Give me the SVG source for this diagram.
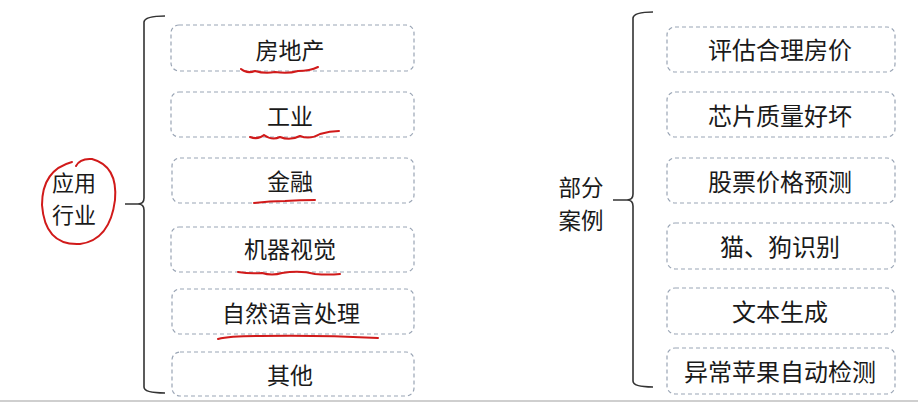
<svg xmlns="http://www.w3.org/2000/svg" width="918" height="404" viewBox="0 0 918 404">
<style>
.box{fill:#ffffff;stroke:#9aa5b5;stroke-width:1.2;stroke-dasharray:4 3}
.t{font-family:"Noto Sans CJK SC","Noto Sans",sans-serif;font-size:23px;fill:#1a1a1a;text-anchor:middle}
.br{fill:none;stroke:#333;stroke-width:1.6}
.red{fill:none;stroke:#d11a1a;stroke-width:2;stroke-linecap:round}
</style>
<rect width="918" height="404" fill="#ffffff"/>
<line x1="0" y1="401" x2="918" y2="401" stroke="#cfcfcf" stroke-width="2"/>
<g id="connectors">
<path class="br" d="M165,16 Q145,16 144,22 L144,198 Q144,204 138,204 L125,204 M138,204 Q144,204 144,210 L144,387 Q144,393 165,393"/>
<path class="br" d="M653,12 Q634,12 633,18 L633,194 Q633,200 627,200 L613,200 M627,200 Q633,200 633,206 L633,381 Q633,387 653,387"/>
</g>
<g id="root-left">
<text class="t" x="74" y="191" style="font-size:22px"><tspan x="74" y="191">应用</tspan><tspan x="74" y="223">行业</tspan></text>
<path class="red" d="M76,166 Q80,158 92,159 Q118,166 115,200 Q110,240 80,244 Q45,246 42,205 Q42,170 72,162"/>
</g>
<g id="root-right">
<text class="t" x="581" y="196" style="font-size:22.5px"><tspan x="581" y="196">部分</tspan><tspan x="581" y="229">案例</tspan></text>
</g>
<g id="l1"><rect class="box" x="171" y="25" width="243" height="46" rx="8"/><text class="t" x="290" y="59">房地产</text>
<path class="red" d="M241,69 Q247,74 255,71 Q265,74 275,72 Q288,74 298,71 Q310,71 318,67"/></g>
<g id="l2"><rect class="box" x="171" y="92" width="243" height="45" rx="8"/><text class="t" x="290" y="125">工业</text>
<path class="red" d="M250,137 Q258,140 264,135 Q272,141 280,137 Q290,141 300,136 Q310,140 320,134 Q330,131 339,131"/></g>
<g id="l3"><rect class="box" x="172" y="158" width="242" height="45" rx="8"/><text class="t" x="290" y="190">金融</text>
<path class="red" d="M254,203 Q270,201 285,201 Q300,200 315,200"/></g>
<g id="l4"><rect class="box" x="171" y="227" width="243" height="45" rx="8"/><text class="t" x="290" y="258">机器视觉</text>
<path class="red" d="M238,272 Q250,274 262,273 Q272,276 282,273 Q300,270 315,274 Q328,275 340,274"/></g>
<g id="l5"><rect class="box" x="172" y="289" width="242" height="45" rx="8"/><text class="t" x="291" y="322">自然语言处理</text>
<path class="red" d="M218,339 Q230,336 260,336 Q320,335 378,338"/></g>
<g id="l6"><rect class="box" x="172" y="352" width="242" height="44" rx="8"/><text class="t" x="290" y="384">其他</text></g>
<g id="r1"><rect class="box" x="667" y="27" width="228" height="45" rx="8"/><text class="t" x="780" y="59" style="font-size:24px">评估合理房价</text></g>
<g id="r2"><rect class="box" x="667" y="92" width="228" height="45" rx="8"/><text class="t" x="780" y="125" style="font-size:24px">芯片质量好坏</text></g>
<g id="r3"><rect class="box" x="667" y="158" width="228" height="45" rx="8"/><text class="t" x="780" y="191" style="font-size:24px">股票价格预测</text></g>
<g id="r4"><rect class="box" x="667" y="223" width="228" height="46" rx="8"/><text class="t" x="780" y="256" style="font-size:24px">猫、狗识别</text></g>
<g id="r5"><rect class="box" x="667" y="288" width="228" height="46" rx="8"/><text class="t" x="780" y="321" style="font-size:24px">文本生成</text></g>
<g id="r6"><rect class="box" x="667" y="348" width="228" height="46" rx="8"/><text class="t" x="780" y="381" style="font-size:24px">异常苹果自动检测</text></g>
</svg>
